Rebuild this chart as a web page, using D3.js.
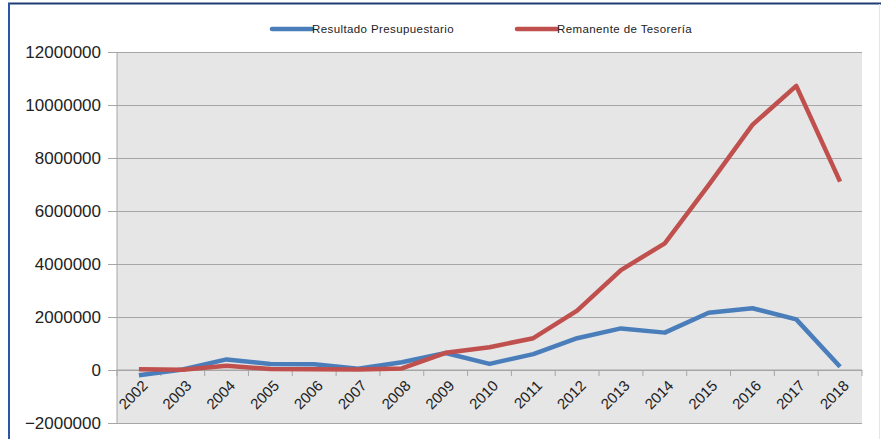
<!DOCTYPE html>
<html>
<head>
<script src="https://d3js.org/d3.v7.min.js"></script>
<style>
  body { margin: 0; background: #fff; }
  text { font-family: "Liberation Sans", Arial, sans-serif; fill: #222; }
</style>
</head>
<body>
<svg width="881" height="439"></svg>
<script>

const years = ["2002", "2003", "2004", "2005", "2006", "2007", "2008", "2009", "2010",
               "2011", "2012", "2013", "2014", "2015", "2016", "2017", "2018"];
const resultado = [-200000, 20000, 400000, 230000, 220000, 50000, 290000, 640000, 230000,
                   600000, 1200000, 1570000, 1410000, 2160000, 2330000, 1910000, 120000];
const remanente = [30000, 10000, 160000, 40000, 30000, 20000, 60000, 650000, 860000,
                   1200000, 2240000, 3770000, 4780000, 6980000, 9250000, 10720000, 7110000];
const yTicks = [-2000000, 0, 2000000, 4000000, 6000000, 8000000, 10000000, 12000000];
const seriesNames = ["Resultado Presupuestario", "Remanente de Tesorería"];
const colors = ["#4a7ebb", "#c0504d"];

var svg = d3.select("svg"),
    plotLeft = 117, plotRight = 862, plotTop = 52, plotBottom = 423;

// frame
svg.append("line").attr("x1", 8).attr("x2", 881).attr("y1", 3.5).attr("y2", 3.5)
  .attr("stroke", "#1f3c74").attr("stroke-width", 2);
svg.append("line").attr("x1", 9).attr("x2", 9).attr("y1", 3).attr("y2", 439)
  .attr("stroke", "#2a56a8").attr("stroke-width", 2);
svg.append("line").attr("x1", 879.5).attr("x2", 879.5).attr("y1", 4).attr("y2", 439)
  .attr("stroke", "#dfe6ee").attr("stroke-width", 1);

var x = d3.scalePoint().domain(years).range([plotLeft, plotRight]).padding(0.5);
var y = d3.scaleLinear().domain([-2000000, 12000000]).range([plotBottom, plotTop]);

// plot area
svg.append("rect").attr("x", plotLeft).attr("y", plotTop)
  .attr("width", plotRight - plotLeft).attr("height", plotBottom - plotTop).attr("fill", "#e6e6e6");

// gridlines + y axis
var yAxis = svg.append("g").attr("transform", "translate(" + plotLeft + ",0)")
  .call(d3.axisLeft(y).tickValues(yTicks).tickSize(-(plotRight - plotLeft)).tickPadding(0).tickFormat(d3.format("d")));
yAxis.select(".domain").remove();
yAxis.selectAll(".tick line").attr("stroke", "#a6a6a6").attr("x1", -9);
yAxis.selectAll(".tick text").attr("x", -16).attr("dy", "0.35em")
  .style("font-size", "17px").style("font-family", "Liberation Sans, Arial, sans-serif").attr("fill", "#222");
svg.append("line").attr("x1", plotLeft).attr("x2", plotLeft).attr("y1", plotTop).attr("y2", plotBottom)
  .attr("stroke", "#a6a6a6");

// x axis at zero
var step = x.step();
var xg = svg.append("g");
xg.append("line").attr("x1", plotLeft).attr("x2", plotRight).attr("y1", y(0)).attr("y2", y(0))
  .attr("stroke", "#a6a6a6");
xg.selectAll(".xtick").data(d3.range(years.length + 1)).enter().append("line")
  .attr("x1", function(i) { return plotLeft + i * step; })
  .attr("x2", function(i) { return plotLeft + i * step; })
  .attr("y1", y(0)).attr("y2", y(0) + 6)
  .attr("stroke", "#a6a6a6");
xg.selectAll(".xlabel").data(years).enter().append("text")
  .attr("text-anchor", "end")
  .attr("transform", function(d) { return "translate(" + (x(d) + 6) + "," + (y(0) + 13) + ") rotate(-45)"; })
  .attr("dy", "0.35em")
  .style("font-size", "15px")
  .text(function(d) { return d; });

// lines
var line = d3.line().x(function(d, i) { return x(years[i]); }).y(function(d) { return y(d); });
[resultado, remanente].forEach(function(s, k) {
  svg.append("path").datum(s).attr("d", line).attr("fill", "none")
    .attr("stroke", colors[k]).attr("stroke-width", 4.5).attr("stroke-linejoin", "round");
});

// legend
var legX = [272, 517];
seriesNames.forEach(function(n, k) {
  svg.append("line").attr("x1", legX[k]).attr("x2", legX[k] + 40).attr("y1", 29).attr("y2", 29)
    .attr("stroke", colors[k]).attr("stroke-width", 4.5).attr("stroke-linecap", "round");
  svg.append("text").attr("x", legX[k] + 40).attr("y", 29).attr("dy", "0.35em")
    .style("font-size", "11.5px").style("letter-spacing", "0.4px").attr("fill", "#333").text(n);
});

</script>
</body>
</html>
